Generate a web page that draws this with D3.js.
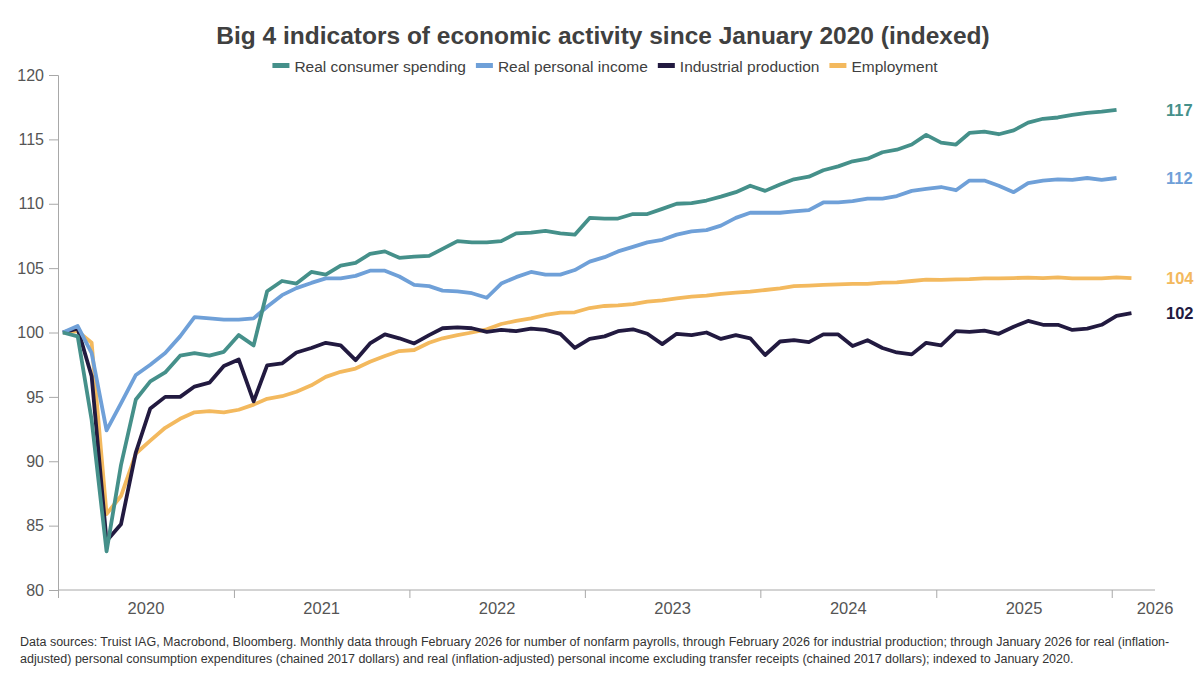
<!DOCTYPE html>
<html>
<head>
<meta charset="utf-8">
<script src="https://cdn.jsdelivr.net/npm/d3@7"></script>
<style>
  body { margin: 0; background: #ffffff; }
  text { font-family: "Liberation Sans", Arial, sans-serif; }
</style>
</head>
<body>
<div id="chart"></div>
<script>

// Chart size and plot area
const width = 1200;
const height = 686;
const margin = {left: 58, right: 45, top: 75, bottom: 96};

// Monthly index values, Jan 2020 = 100
const startMonth = new Date(2020, 0, 11);

const spending = [100, 99.7, 93.2, 83.0, 89.7, 94.8, 96.2, 96.9, 98.2, 98.4,
  98.2, 98.5, 99.8, 99.0, 103.2, 104.0, 103.8, 104.7, 104.5, 105.2,
  105.4, 106.1, 106.3, 105.8, 105.9, 105.95, 106.5, 107.1, 107.0, 107.0,
  107.1, 107.7, 107.75, 107.9, 107.7, 107.6, 108.9, 108.85, 108.85, 109.2,
  109.2, 109.6, 110.0, 110.05, 110.25, 110.55, 110.9, 111.4, 111.0, 111.5,
  111.9, 112.1, 112.6, 112.9, 113.3, 113.5, 114.0, 114.2, 114.6, 115.35,
  114.75, 114.6, 115.5, 115.6, 115.4, 115.7, 116.3, 116.6, 116.7, 116.9,
  117.05, 117.15, 117.3];

const income = [100, 100.5, 98.4, 92.4, 94.5, 96.7, 97.5, 98.4, 99.7, 101.2,
  101.1, 101.0, 101.0, 101.1, 102.0, 102.9, 103.45, 103.85, 104.2, 104.2,
  104.4, 104.8, 104.8, 104.35, 103.7, 103.6, 103.25, 103.2, 103.05, 102.7,
  103.8, 104.3, 104.7, 104.5, 104.5, 104.85, 105.5, 105.85, 106.3, 106.65,
  107.0, 107.2, 107.6, 107.85, 107.95, 108.3, 108.9, 109.3, 109.3, 109.3,
  109.4, 109.5, 110.1, 110.1, 110.2, 110.4, 110.4, 110.6, 111.0, 111.15,
  111.3, 111.05, 111.8, 111.8, 111.4, 110.9, 111.6, 111.8, 111.9, 111.85,
  112.0, 111.85, 112.0];

const production = [100, 100.3, 96.6, 83.8, 85.1, 90.7, 94.1, 95.0, 95.0, 95.8,
  96.1, 97.4, 97.9, 94.65, 97.45, 97.6, 98.45, 98.8, 99.2, 99.0,
  97.85, 99.15, 99.85, 99.55, 99.15, 99.8, 100.33, 100.4, 100.33, 100.05,
  100.2, 100.1, 100.3, 100.2, 99.9, 98.8, 99.5, 99.7, 100.1, 100.25,
  99.9, 99.1, 99.9, 99.8, 100.0, 99.5, 99.8, 99.55, 98.25, 99.3,
  99.4, 99.25, 99.85, 99.85, 98.95, 99.4, 98.8, 98.45, 98.3, 99.2,
  99.0, 100.1, 100.05, 100.15, 99.9, 100.45, 100.9, 100.6, 100.6, 100.2,
  100.3, 100.6, 101.3, 101.5];

const employment = [100, 100.1, 99.2, 85.9, 87.3, 90.6, 91.6, 92.6, 93.3, 93.8,
  93.9, 93.8, 94.0, 94.4, 94.85, 95.05, 95.4, 95.9, 96.55, 96.95,
  97.2, 97.73, 98.17, 98.56, 98.64, 99.2, 99.55, 99.8, 100.0, 100.25,
  100.66, 100.9, 101.1, 101.36, 101.54, 101.57, 101.9, 102.06, 102.1, 102.2,
  102.4, 102.5, 102.65, 102.78, 102.87, 103.0, 103.1, 103.17, 103.3, 103.43,
  103.6, 103.64, 103.7, 103.74, 103.77, 103.77, 103.87, 103.9, 104.0, 104.1,
  104.08, 104.13, 104.15, 104.2, 104.2, 104.23, 104.26, 104.23, 104.28, 104.2,
  104.2, 104.2, 104.28, 104.23];

const seriesNames = ["Real consumer spending", "Real personal income", "Industrial production", "Employment"];
const seriesValues = [spending, income, production, employment];
const seriesColors = ["#45908a", "#6fa0d8", "#221a40", "#f3b95e"];
const endLabels = ["117", "112", "102", "104"];

const yTicks = [80, 85, 90, 95, 100, 105, 110, 115, 120];
const years = [2020, 2021, 2022, 2023, 2024, 2025, 2026];

const titleText = "Big 4 indicators of economic activity since January 2020 (indexed)";
const footLines = [
  "Data sources: Truist IAG, Macrobond, Bloomberg. Monthly data through February 2026 for number of nonfarm payrolls, through February 2026 for industrial production; through January 2026 for real (inflation-",
  "adjusted) personal consumption expenditures (chained 2017 dollars) and real (inflation-adjusted) personal income excluding transfer receipts (chained 2017 dollars); indexed to January 2020."
];

const axisColor = "#a8a8a8";
const textColor = "#404040";

const svg = d3.select("#chart")
  .append("svg")
  .attr("width", width)
  .attr("height", height);

// Scales
const xScale = d3.scaleTime()
  .domain([new Date(2020, 0, 1), new Date(2026, 3, 1)])
  .range([margin.left, width - margin.right]);

const yScale = d3.scaleLinear()
  .domain([80, 120])
  .range([height - margin.bottom, margin.top]);

const monthDate = i => d3.timeMonth.offset(startMonth, i);

// Title
svg.append("text")
  .attr("x", 603)
  .attr("y", 44)
  .attr("text-anchor", "middle")
  .attr("font-size", "24.5px")
  .attr("font-weight", "bold")
  .attr("fill", textColor)
  .text(titleText);

// Legend, centred under the title
const legend = svg.append("g");
let lx = 0;
seriesNames.forEach((name, k) => {
  const item = legend.append("g").attr("transform", `translate(${lx},0)`);
  item.append("rect")
    .attr("x", 0).attr("y", -3)
    .attr("width", 17).attr("height", 5)
    .attr("fill", seriesColors[k]);
  const t = item.append("text")
    .attr("x", 22).attr("y", 5.5)
    .attr("font-size", "15.5px")
    .attr("fill", textColor)
    .text(name);
  lx += 22 + t.node().getComputedTextLength() + 10;
});
legend.attr("transform", `translate(${605 - (lx - 10) / 2},66)`);

// Y axis
const yAxis = svg.append("g")
  .attr("transform", `translate(${margin.left},0)`)
  .call(d3.axisLeft(yScale).tickValues(yTicks).tickSize(9).tickPadding(5));
yAxis.selectAll("path, line").attr("stroke", axisColor);
yAxis.selectAll("text").attr("font-size", "16px").attr("fill", "#555555")
  .attr("font-family", "'Liberation Sans', Arial, sans-serif");

// X axis: year ticks at year boundaries, labels centred inside each year
const xAxis = svg.append("g")
  .attr("transform", `translate(0,${height - margin.bottom})`)
  .call(d3.axisBottom(xScale)
    .tickValues(years.map(y => new Date(y, 0, 1)))
    .tickSize(8)
    .tickFormat(""));
xAxis.selectAll("path, line").attr("stroke", axisColor);
xAxis.select(".domain").attr("d", `M${margin.left},0H${width - margin.right}`);

svg.append("g")
  .selectAll("text")
  .data(years)
  .join("text")
    .attr("x", y => {
      const a = xScale(new Date(y, 0, 1));
      const b = Math.min(xScale(new Date(y + 1, 0, 1)), width - margin.right + (width - margin.right - a));
      return (a + b) / 2;
    })
    .attr("y", height - margin.bottom + 24)
    .attr("text-anchor", "middle")
    .attr("font-size", "16.5px")
    .attr("fill", "#555555")
    .text(y => y);

// Lines
const line = d3.line()
  .x((d, i) => xScale(monthDate(i)))
  .y(d => yScale(d));

const order = [3, 2, 1, 0];
svg.append("g")
  .selectAll("path")
  .data(order)
  .join("path")
    .attr("d", k => line(seriesValues[k]))
    .attr("fill", "none")
    .attr("stroke", k => seriesColors[k])
    .attr("stroke-width", 3.8)
    .attr("stroke-linejoin", "round");

// Latest value labels at the right
svg.append("g")
  .selectAll("text")
  .data(d3.range(seriesNames.length))
  .join("text")
    .attr("x", 1166)
    .attr("y", k => yScale(seriesValues[k][seriesValues[k].length - 1]) + 6)
    .attr("font-size", "16.5px")
    .attr("font-weight", "bold")
    .attr("fill", k => seriesColors[k])
    .text(k => endLabels[k]);

// Footer note
svg.append("g")
  .selectAll("text")
  .data(footLines)
  .join("text")
    .attr("x", 20)
    .attr("y", (d, i) => 646 + i * 17)
    .attr("font-size", "12.5px")
    .attr("fill", "#333333")
    .text(d => d);

</script>
</body>
</html>
